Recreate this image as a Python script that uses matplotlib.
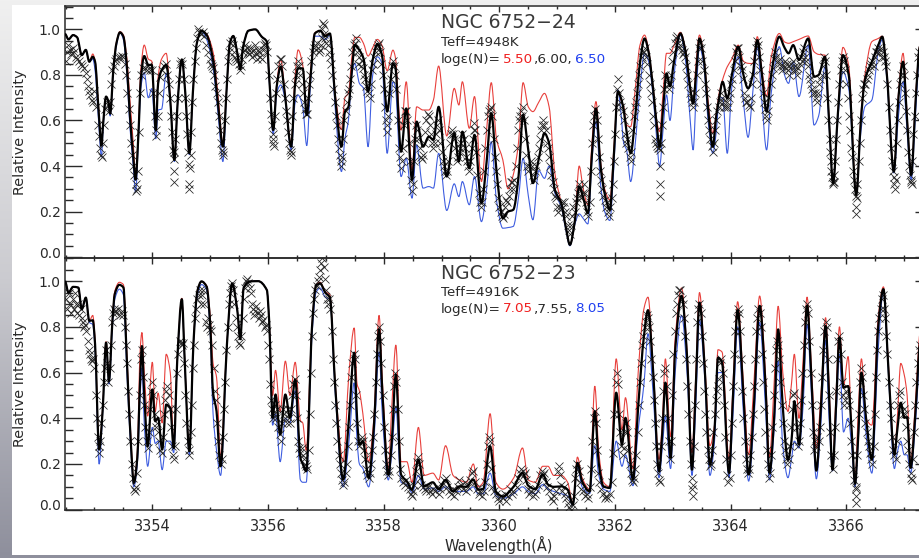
import matplotlib
matplotlib.use('Agg')
import matplotlib.pyplot as plt
import numpy as np
from matplotlib.patches import PathPatch, Rectangle
from matplotlib.path import Path
from matplotlib.ticker import MultipleLocator
from matplotlib.transforms import ScaledTranslation

# wavelengths are offsets from 3350 A
base = 3350

# top panel, NGC 6752-24
wave_top = [
 2.49,2.55,2.63,2.70,2.78,2.85,2.91,2.97,3.01,3.07,
 3.12,3.15,3.20,3.24,3.27,3.33,3.38,3.44,3.50,3.56,
 3.61,3.67,3.71,3.76,3.80,3.86,3.93,3.99,4.06,4.10,
 4.16,4.24,4.31,4.38,4.44,4.51,4.57,4.64,4.70,4.77,
 4.85,4.94,5.05,5.14,5.22,5.29,5.34,5.40,5.47,5.52,
 5.57,5.66,5.78,5.89,5.98,6.02,6.09,6.15,6.22,6.29,
 6.40,6.47,6.52,6.60,6.67,6.73,6.81,6.90,6.99,7.07,
 7.16,7.27,7.33,7.39,7.45,7.50,7.58,7.65,7.73,7.81,
 7.89,7.97,8.06,8.16,8.20,8.30,8.39,8.49,8.57,8.68,
 8.78,8.86,8.95,9.09,9.22,9.30,9.36,9.48,9.57,9.69,
 9.78,9.86,9.95,10.06,10.15,10.24,10.33,10.41,10.50,10.58,
 10.68,10.78,10.86,10.96,11.07,11.15,11.22,11.30,11.38,11.45,
 11.53,11.60,11.67,11.75,11.82,11.91,11.98,12.05,12.10,12.15,
 12.20,12.27,12.35,12.43,12.51,12.58,12.66,12.72,12.77,12.83,
 12.89,12.95,13.02,13.13,13.22,13.30,13.35,13.40,13.46,13.53,
 13.62,13.69,13.75,13.80,13.86,13.94,14.02,14.13,14.22,14.30,
 14.38,14.46,14.54,14.62,14.70,14.84,14.93,15.00,15.08,15.18,
 15.34,15.44,15.52,15.63,15.70,15.77,15.85,15.94,16.04,16.17,
 16.25,16.32,16.44,16.55,16.62,16.70,16.82,16.90,16.98,17.05,
 17.12,17.20,17.27,17.40,17.48]
black_top = [
 .98,.956,.975,.965,.887,.91,.858,.88,.858,.646,
 .49,.588,.705,.683,.63,.836,.94,.987,.968,.836,
 .63,.44,.34,.544,.778,.883,.844,.844,.558,.763,
 .82,.844,.69,.427,.69,.868,.72,.456,.72,.94,
 .994,.975,.866,.66,.485,.763,.94,.971,.895,.825,
 .924,.994,1.0,.968,.946,.792,.558,.749,.836,.72,
 .485,.763,.829,.829,.624,.778,.982,.994,.971,.982,
 .705,.485,.639,.66,.82,.931,.909,.873,.727,.866,
 .936,.887,.639,.851,.836,.463,.653,.339,.595,.485,
 .529,.515,.66,.354,.544,.42,.551,.39,.537,.237,
 .42,.632,.38,.171,.20,.208,.35,.624,.47,.325,
 .43,.544,.50,.295,.237,.13,.054,.15,.31,.26,
 .193,.45,.653,.40,.28,.208,.45,.727,.70,.646,
 .55,.456,.62,.85,.96,.90,.734,.58,.485,.65,
 .807,.75,.86,.982,.90,.74,.675,.80,.96,.88,
 .62,.485,.62,.697,.77,.697,.80,.924,.80,.741,
 .80,.953,.80,.639,.80,.968,.92,.895,.931,.866,
 .96,.792,.80,.88,.60,.325,.62,.887,.80,.273,
 .60,.778,.858,.93,.968,.80,.376,.70,.858,.60,
 .361,.70,.924,.95,.95]
red_top = [
 .98,.956,.975,.965,.887,.91,.858,.892,.86,.66,
 .49,.59,.705,.683,.63,.84,.945,.99,.975,.87,
 .70,.50,.36,.56,.82,.931,.87,.86,.57,.79,
 .87,.895,.70,.427,.69,.868,.72,.456,.72,.94,
 .994,.98,.90,.70,.50,.763,.94,.971,.895,.825,
 .924,.994,1.0,.968,.946,.792,.558,.76,.868,.73,
 .50,.80,.91,.844,.63,.80,.985,.994,.975,.982,
 .72,.56,.70,.72,.88,.965,.965,.939,.883,.92,
 .956,.93,.819,.909,.88,.558,.77,.383,.66,.646,
 .646,.69,.839,.532,.741,.668,.77,.566,.705,.332,
 .56,.766,.52,.427,.30,.361,.50,.766,.66,.639,
 .68,.719,.66,.368,.237,.13,.054,.15,.40,.30,
 .23,.50,.683,.42,.30,.251,.48,.73,.69,.66,
 .58,.573,.74,.93,.975,.91,.74,.60,.551,.72,
 .895,.895,.93,.987,.91,.75,.68,.85,.975,.89,
 .66,.544,.63,.72,.78,.836,.87,.931,.86,.851,
 .85,.968,.82,.705,.88,.982,.945,.939,.946,.956,
 .971,.902,.89,.887,.61,.325,.62,.921,.84,.273,
 .62,.80,.946,.96,.97,.81,.376,.72,.895,.62,
 .36,.72,.93,.96,.96]
blue_top = [
 .98,.956,.975,.965,.887,.91,.858,.87,.82,.60,
 .44,.57,.70,.68,.62,.83,.93,.985,.955,.80,
 .58,.40,.285,.52,.74,.81,.70,.74,.52,.646,
 .65,.807,.68,.42,.69,.868,.72,.45,.72,.94,
 .99,.955,.83,.62,.42,.763,.94,.971,.895,.825,
 .924,.994,1.0,.968,.946,.78,.54,.72,.756,.70,
 .47,.68,.712,.66,.49,.74,.97,.97,.955,.975,
 .66,.376,.52,.60,.80,.851,.763,.741,.485,.80,
 .88,.851,.456,.77,.75,.354,.434,.259,.493,.303,
 .31,.303,.456,.205,.322,.266,.332,.23,.354,.156,
 .30,.507,.25,.127,.13,.135,.26,.434,.27,.164,
 .38,.346,.40,.281,.22,.12,.05,.14,.19,.17,
 .146,.42,.595,.32,.20,.161,.40,.734,.64,.50,
 .47,.332,.50,.74,.895,.86,.70,.52,.398,.56,
 .712,.60,.80,.975,.86,.60,.471,.70,.924,.85,
 .57,.456,.55,.697,.70,.456,.75,.88,.68,.526,
 .72,.924,.68,.471,.72,.924,.80,.763,.858,.705,
 .931,.58,.62,.836,.58,.325,.60,.814,.74,.273,
 .55,.661,.69,.90,.955,.78,.37,.62,.77,.55,
 .34,.65,.90,.93,.93]

obs_wave_top = [
 2.50,2.52,2.54,2.57,2.60,2.62,2.65,2.68,2.70,2.73,
 2.76,2.79,2.82,2.85,2.87,2.89,2.91,2.93,2.95,2.97,
 3.00,3.03,3.06,3.08,3.10,3.12,3.13,3.15,3.17,3.19,
 3.21,3.23,3.25,3.27,3.29,3.31,3.33,3.35,3.38,3.41,
 3.44,3.47,3.50,3.53,3.55,3.57,3.59,3.61,3.63,3.65,
 3.67,3.69,3.71,3.72,3.73,3.75,3.77,3.79,3.81,3.84,
 3.87,3.90,3.93,3.96,3.99,4.02,4.04,4.06,4.07,4.09,
 4.11,4.14,4.17,4.20,4.23,4.26,4.28,4.30,4.32,4.34,
 4.36,4.37,4.38,4.38,4.38,4.40,4.42,4.44,4.46,4.48,
 4.50,4.52,4.54,4.56,4.58,4.60,4.62,4.63,4.64,4.64,
 4.65,4.66,4.67,4.69,4.71,4.73,4.75,4.77,4.79,4.81,
 4.84,4.87,4.90,4.93,4.96,4.99,5.01,5.03,5.05,5.07,
 5.09,5.11,5.13,5.15,5.17,5.19,5.21,5.22,5.23,5.25,
 5.27,5.29,5.31,5.33,5.35,5.37,5.39,5.41,5.43,5.45,
 5.47,5.49,5.51,5.53,5.55,5.57,5.59,5.61,5.63,5.65,
 5.67,5.69,5.71,5.73,5.75,5.77,5.79,5.81,5.83,5.85,
 5.87,5.89,5.91,5.93,5.95,5.97,5.99,6.01,6.03,6.05,
 6.07,6.08,6.09,6.09,6.10,6.12,6.14,6.16,6.18,6.20,
 6.22,6.24,6.27,6.29,6.31,6.33,6.35,6.37,6.38,6.39,
 6.40,6.42,6.44,6.46,6.48,6.50,6.52,6.54,6.56,6.58,
 6.60,6.62,6.64,6.66,6.67,6.69,6.71,6.73,6.75,6.77,
 6.79,6.82,6.84,6.86,6.88,6.90,6.91,6.93,6.94,6.95,
 6.96,6.97,6.99,7.01,7.03,7.05,7.07,7.09,7.11,7.13,
 7.15,7.17,7.19,7.21,7.23,7.25,7.26,7.27,7.28,7.30,
 7.32,7.34,7.36,7.38,7.40,7.42,7.44,7.46,7.48,7.50,
 7.52,7.54,7.56,7.58,7.60,7.62,7.64,7.66,7.68,7.70,
 7.72,7.74,7.76,7.78,7.80,7.82,7.84,7.86,7.88,7.90,
 7.92,7.94,7.96,7.98,8.00,8.02,8.04,8.05,8.06,8.07,
 8.10,8.12,8.14,8.16,8.18,8.20,8.22,8.24,8.26,8.28,
 8.30,8.31,8.33,8.35,8.37,8.39,8.41,8.43,8.45,8.47,
 8.49,8.50,8.52,8.54,8.56,8.58,8.60,8.62,8.64,8.66,
 8.68,8.70,8.72,8.74,8.76,8.78,8.80,8.82,8.84,8.86,
 8.88,8.90,8.92,8.94,8.96,8.98,9.00,9.02,9.04,9.06,
 9.08,9.10,9.12,9.14,9.16,9.18,9.20,9.22,9.24,9.26,
 9.28,9.30,9.32,9.34,9.36,9.38,9.40,9.42,9.44,9.46,
 9.48,9.50,9.52,9.54,9.56,9.57,9.58,9.60,9.62,9.64,
 9.66,9.68,9.70,9.72,9.74,9.76,9.78,9.80,9.82,9.84,
 9.86,9.88,9.90,9.92,9.94,9.96,9.98,10.00,10.02,10.04,
 10.06,10.08,10.10,10.12,10.14,10.16,10.18,10.20,10.22,10.24,
 10.26,10.28,10.30,10.32,10.34,10.36,10.38,10.39,10.40,10.42,
 10.44,10.46,10.48,10.50,10.52,10.54,10.56,10.58,10.60,10.62,
 10.64,10.66,10.68,10.70,10.72,10.74,10.76,10.78,10.80,10.82,
 10.84,10.86,10.88,10.90,10.92,10.94,10.96,10.98,11.00,11.02,
 11.04,11.06,11.08,11.10,11.12,11.14,11.16,11.18,11.20,11.22,
 11.24,11.26,11.28,11.30,11.32,11.34,11.36,11.38,11.40,11.42,
 11.44,11.46,11.48,11.50,11.52,11.54,11.56,11.58,11.60,11.62,
 11.64,11.66,11.68,11.70,11.72,11.74,11.76,11.78,11.80,11.82,
 11.84,11.86,11.88,11.90,11.92,11.94,11.96,11.98,12.00,12.02,
 12.04,12.05,12.07,12.09,12.11,12.13,12.15,12.17,12.19,12.21,
 12.23,12.25,12.27,12.28,12.30,12.32,12.34,12.36,12.38,12.40,
 12.42,12.44,12.46,12.48,12.50,12.52,12.54,12.56,12.58,12.60,
 12.62,12.64,12.66,12.67,12.69,12.71,12.73,12.74,12.76,12.77,
 12.77,12.77,12.77,12.79,12.81,12.83,12.85,12.87,12.89,12.91,
 12.93,12.95,12.97,12.99,13.01,13.03,13.05,13.07,13.09,13.11,
 13.13,13.15,13.17,13.19,13.21,13.23,13.25,13.27,13.29,13.31,
 13.33,13.35,13.37,13.39,13.41,13.43,13.45,13.47,13.49,13.51,
 13.53,13.55,13.57,13.59,13.61,13.63,13.65,13.67,13.69,13.71,
 13.73,13.75,13.77,13.79,13.81,13.83,13.85,13.87,13.89,13.91,
 13.93,13.95,13.97,13.99,14.01,14.03,14.05,14.07,14.09,14.11,
 14.13,14.15,14.17,14.19,14.21,14.23,14.25,14.27,14.29,14.31,
 14.33,14.35,14.37,14.39,14.41,14.43,14.45,14.47,14.49,14.51,
 14.53,14.55,14.57,14.59,14.61,14.63,14.65,14.67,14.69,14.71,
 14.73,14.75,14.77,14.79,14.81,14.83,14.85,14.87,14.89,14.91,
 14.93,14.95,14.97,14.99,15.01,15.03,15.05,15.07,15.09,15.11,
 15.13,15.15,15.17,15.19,15.21,15.23,15.25,15.27,15.29,15.31,
 15.33,15.35,15.37,15.39,15.41,15.43,15.45,15.47,15.49,15.51,
 15.53,15.55,15.57,15.59,15.61,15.63,15.65,15.67,15.69,15.71,
 15.72,15.73,15.74,15.75,15.76,15.77,15.78,15.79,15.80,15.82,
 15.84,15.86,15.88,15.90,15.92,15.94,15.96,15.98,16.00,16.02,
 16.04,16.06,16.08,16.10,16.12,16.14,16.15,16.16,16.17,16.17,
 16.18,16.19,16.21,16.23,16.25,16.27,16.29,16.31,16.33,16.35,
 16.37,16.39,16.41,16.43,16.45,16.47,16.49,16.51,16.53,16.55,
 16.57,16.59,16.61,16.63,16.65,16.67,16.69,16.71,16.73,16.75,
 16.77,16.79,16.81,16.82,16.83,16.84,16.85,16.87,16.89,16.91,
 16.93,16.95,16.97,16.99,17.01,17.03,17.05,17.07,17.09,17.10,
 17.11,17.12,17.13,17.14,17.16,17.18,17.20,17.22,17.24,17.26]
obs_flux_top = [
 .86,.90,.93,.91,.89,.92,.90,.88,.87,.86,
 .85,.84,.83,.81,.78,.75,.73,.71,.69,.68,
 .73,.66,.58,.53,.48,.45,.44,.50,.58,.65,
 .68,.67,.64,.68,.76,.82,.84,.86,.87,.88,
 .88,.885,.88,.85,.80,.72,.65,.58,.50,.45,
 .40,.36,.32,.29,.30,.38,.55,.72,.80,.83,
 .83,.82,.84,.82,.82,.72,.62,.56,.53,.62,
 .72,.79,.82,.84,.85,.80,.76,.70,.62,.55,
 .47,.43,.38,.33,.46,.52,.62,.70,.78,.85,
 .86,.85,.78,.70,.62,.54,.46,.41,.32,.30,
 .39,.45,.55,.68,.78,.86,.92,.96,1.0,.99,
 .98,.99,.97,.93,.90,.87,.85,.84,.83,.80,
 .75,.72,.68,.62,.56,.50,.47,.45,.46,.60,
 .70,.78,.86,.90,.94,.95,.93,.90,.88,.87,
 .86,.85,.82,.84,.87,.90,.91,.93,.92,.90,
 .89,.92,.90,.88,.91,.93,.89,.87,.91,.90,
 .88,.87,.91,.93,.94,.93,.90,.80,.70,.63,
 .58,.54,.52,.50,.49,.62,.72,.78,.84,.87,
 .87,.84,.76,.70,.64,.60,.55,.50,.47,.45,
 .46,.62,.70,.76,.80,.84,.86,.84,.80,.76,
 .72,.68,.65,.63,.63,.70,.76,.80,.86,.90,
 .92,.93,.94,.92,.90,.91,.93,.96,1.0,1.03,
 1.02,.98,.96,.94,.93,.90,.88,.85,.80,.74,
 .68,.62,.58,.52,.48,.45,.42,.40,.44,.52,
 .60,.64,.68,.72,.74,.78,.84,.90,.93,.94,
 .96,.90,.85,.88,.84,.86,.83,.80,.78,.75,
 .73,.72,.70,.76,.82,.85,.88,.90,.92,.93,
 .94,.90,.85,.80,.74,.66,.60,.58,.55,.62,
 .72,.78,.84,.86,.84,.80,.74,.60,.48,.44,
 .39,.42,.48,.58,.64,.64,.60,.50,.42,.34,
 .29,.32,.42,.52,.58,.56,.52,.48,.44,.43,
 .45,.50,.55,.60,.63,.62,.58,.54,.50,.48,
 .50,.54,.58,.60,.56,.50,.46,.42,.40,.38,
 .36,.38,.42,.50,.54,.56,.54,.52,.48,.42,
 .44,.46,.48,.50,.54,.52,.48,.44,.42,.40,
 .38,.42,.48,.52,.56,.59,.56,.46,.36,.28,
 .24,.22,.24,.30,.38,.48,.56,.62,.64,.65,
 .66,.62,.52,.44,.38,.32,.26,.22,.20,.18,
 .17,.19,.22,.25,.24,.27,.30,.33,.33,.30,
 .34,.40,.48,.56,.60,.62,.64,.62,.66,.60,
 .52,.45,.40,.38,.40,.42,.40,.36,.34,.38,
 .40,.44,.48,.52,.56,.58,.60,.58,.56,.50,
 .48,.44,.40,.36,.33,.30,.27,.26,.22,.20,
 .22,.21,.24,.22,.24,.20,.18,.14,.12,.10,
 .14,.18,.22,.20,.24,.26,.28,.32,.30,.26,
 .28,.32,.28,.24,.20,.18,.24,.38,.50,.58,
 .62,.65,.60,.52,.44,.38,.34,.30,.27,.25,
 .22,.24,.20,.18,.22,.26,.32,.42,.54,.66,
 .74,.78,.72,.68,.66,.64,.60,.54,.50,.52,
 .48,.44,.42,.46,.56,.62,.66,.68,.72,.76,
 .80,.84,.88,.90,.90,.92,.88,.85,.80,.76,
 .72,.68,.62,.58,.52,.50,.49,.48,.48,.47,
 .40,.32,.27,.50,.58,.66,.74,.80,.78,.76,
 .74,.76,.80,.86,.90,.94,.96,.97,.94,.92,
 .93,.91,.89,.90,.88,.84,.80,.76,.72,.70,
 .68,.66,.68,.72,.80,.86,.92,.94,.92,.86,
 .82,.76,.72,.66,.60,.56,.52,.49,.46,.50,
 .56,.60,.64,.66,.68,.72,.70,.68,.66,.66,
 .68,.66,.70,.72,.76,.78,.82,.86,.90,.92,
 .92,.88,.84,.82,.78,.72,.70,.68,.68,.67,
 .66,.70,.76,.80,.86,.92,.95,.93,.88,.82,
 .76,.72,.68,.65,.62,.60,.64,.70,.76,.80,
 .83,.87,.90,.88,.86,.85,.87,.84,.82,.84,
 .86,.83,.85,.82,.80,.83,.85,.86,.82,.84,
 .82,.80,.83,.85,.88,.86,.90,.92,.88,.86,
 .84,.80,.78,.76,.74,.72,.72,.70,.68,.72,
 .76,.78,.80,.84,.88,.86,.80,.70,.60,.52,
 .46,.42,.38,.35,.33,.32,.33,.36,.42,.52,
 .60,.68,.76,.82,.86,.88,.86,.82,.76,.70,
 .62,.56,.48,.44,.38,.34,.30,.27,.22,.19,
 .26,.32,.42,.50,.60,.70,.74,.76,.76,.78,
 .80,.82,.84,.85,.86,.84,.88,.90,.90,.92,
 .90,.92,.88,.90,.88,.86,.84,.76,.66,.56,
 .48,.42,.38,.35,.32,.30,.34,.50,.60,.68,
 .76,.80,.84,.80,.72,.64,.56,.46,.40,.36,
 .33,.34,.32,.42,.54,.62,.72,.80,.88,.90]

# bottom panel, NGC 6752-23
wave_bot = [
 2.49,2.55,2.63,2.72,2.78,2.85,2.91,2.97,3.01,3.08,
 3.14,3.20,3.25,3.31,3.35,3.43,3.50,3.56,3.63,3.68,
 3.74,3.79,3.82,3.86,3.92,4.00,4.05,4.10,4.17,4.24,
 4.31,4.37,4.43,4.51,4.56,4.64,4.71,4.78,4.85,4.94,
 5.00,5.05,5.11,5.18,5.29,5.38,5.47,5.52,5.58,5.69,
 5.83,5.98,6.02,6.08,6.13,6.21,6.30,6.38,6.47,6.56,
 6.60,6.66,6.76,6.83,6.90,6.99,7.07,7.16,7.30,7.40,
 7.49,7.54,7.58,7.64,7.74,7.83,7.92,7.98,8.08,8.14,
 8.21,8.30,8.40,8.49,8.60,8.70,8.85,8.95,9.07,9.20,
 9.31,9.43,9.55,9.63,9.72,9.84,9.94,10.06,10.25,10.40,
 10.50,10.62,10.75,10.84,10.94,11.07,11.18,11.27,11.35,11.43,
 11.56,11.65,11.72,11.80,11.91,12.02,12.12,12.18,12.31,12.40,
 12.50,12.57,12.66,12.76,12.82,12.87,12.96,13.04,13.15,13.25,
 13.33,13.39,13.46,13.55,13.64,13.72,13.78,13.85,13.97,14.04,
 14.12,14.22,14.31,14.40,14.50,14.60,14.67,14.75,14.82,14.90,
 14.99,15.05,15.10,15.18,15.25,15.32,15.40,15.48,15.56,15.64,
 15.70,15.76,15.82,15.88,15.95,16.03,16.09,16.15,16.20,16.26,
 16.34,16.44,16.55,16.64,16.73,16.83,16.88,16.94,17.00,17.05,
 17.11,17.20,17.27,17.40,17.48]
black_bot = [
 1.0,.95,.975,.972,.877,.928,.826,.829,.724,.263,
 .431,.731,.563,.826,.943,.984,.972,.651,.285,.117,
 .227,.577,.716,.504,.278,.526,.387,.402,.263,.46,
 .446,.27,.651,.921,.651,.256,.724,.958,.999,.975,
 .811,.512,.431,.19,.724,.99,.87,.746,.972,.999,
 1.0,.961,.826,.402,.504,.329,.504,.402,.57,.227,
 .20,.168,.797,.98,.99,.95,.928,.548,.132,.40,
 .687,.40,.285,.30,.139,.36,.789,.50,.154,.30,
 .592,.154,.124,.088,.219,.102,.12,.09,.13,.08,
 .102,.10,.132,.088,.09,.278,.08,.058,.102,.161,
 .105,.09,.154,.11,.10,.102,.088,.022,.205,.124,
 .08,.431,.20,.102,.095,.512,.285,.402,.132,.45,
 .76,.873,.60,.168,.35,.556,.227,.70,.936,.65,
 .175,.50,.906,.62,.197,.35,.665,.643,.161,.50,
 .873,.50,.154,.45,.892,.55,.161,.40,.789,.45,
 .219,.30,.475,.285,.55,.892,.55,.171,.45,.804,
 .50,.175,.45,.753,.534,.541,.35,.113,.30,.60,
 .40,.219,.80,.965,.60,.241,.35,.468,.402,.405,
 .183,.45,.724,.80,.80]
red_bot = [
 1.0,.95,.975,.972,.877,.928,.826,.85,.74,.27,
 .44,.735,.57,.835,.955,.995,.985,.68,.31,.12,
 .25,.70,.775,.60,.41,.645,.43,.51,.38,.68,
 .60,.28,.655,.925,.655,.26,.73,.96,.999,.98,
 .85,.64,.58,.23,.73,.99,.87,.746,.972,.999,
 1.0,.961,.83,.50,.61,.43,.65,.50,.645,.39,
 .38,.26,.81,.985,.995,.955,.94,.56,.21,.60,
 .795,.55,.52,.42,.21,.40,.85,.55,.18,.45,
 .72,.21,.21,.12,.36,.15,.16,.13,.28,.15,
 .13,.12,.20,.10,.12,.42,.12,.09,.14,.27,
 .13,.12,.19,.19,.15,.15,.12,.03,.23,.14,
 .09,.54,.25,.12,.10,.66,.35,.49,.18,.60,
 .88,.93,.62,.22,.40,.66,.32,.75,.97,.67,
 .25,.55,.95,.65,.28,.37,.70,.69,.22,.55,
 .91,.55,.24,.55,.935,.60,.23,.55,.89,.60,
 .43,.55,.68,.40,.65,.93,.60,.27,.50,.84,
 .55,.19,.50,.80,.54,.67,.35,.12,.40,.66,
 .40,.37,.84,.975,.62,.25,.40,.64,.59,.50,
 .21,.50,.77,.85,.85]
blue_bot = [
 1.0,.95,.975,.972,.877,.928,.82,.81,.70,.20,
 .42,.72,.55,.80,.92,.965,.94,.60,.26,.10,
 .20,.50,.62,.38,.19,.36,.29,.30,.175,.30,
 .30,.25,.64,.915,.645,.24,.72,.94,.985,.96,
 .78,.42,.26,.15,.72,.99,.87,.746,.972,.999,
 1.0,.961,.82,.37,.42,.21,.40,.38,.52,.13,
 .12,.12,.76,.95,.97,.93,.92,.52,.10,.30,
 .555,.30,.20,.18,.10,.30,.69,.40,.13,.25,
 .45,.12,.11,.075,.15,.09,.095,.08,.10,.08,
 .08,.08,.10,.07,.07,.16,.06,.05,.07,.10,
 .08,.07,.11,.09,.08,.07,.06,.02,.19,.10,
 .07,.28,.15,.09,.08,.30,.19,.24,.105,.35,
 .55,.77,.50,.14,.28,.41,.18,.60,.85,.58,
 .15,.42,.83,.58,.15,.30,.60,.60,.14,.42,
 .80,.42,.125,.38,.82,.45,.13,.35,.65,.28,
 .14,.22,.30,.27,.45,.81,.48,.135,.38,.74,
 .40,.17,.40,.68,.34,.40,.28,.10,.28,.53,
 .33,.16,.70,.955,.58,.18,.25,.30,.24,.24,
 .16,.40,.66,.74,.74]

obs_wave_bot = [
 2.50,2.53,2.56,2.58,2.60,2.62,2.64,2.66,2.68,2.70,
 2.72,2.74,2.76,2.78,2.80,2.82,2.84,2.86,2.88,2.90,
 2.92,2.94,2.96,2.98,3.00,3.02,3.04,3.06,3.07,3.08,
 3.10,3.12,3.14,3.16,3.18,3.20,3.22,3.24,3.26,3.28,
 3.30,3.32,3.34,3.36,3.38,3.41,3.44,3.47,3.50,3.52,
 3.54,3.56,3.58,3.60,3.62,3.64,3.66,3.68,3.70,3.72,
 3.74,3.76,3.78,3.80,3.82,3.84,3.86,3.88,3.90,3.92,
 3.94,3.96,3.98,4.00,4.02,4.04,4.06,4.08,4.10,4.12,
 4.14,4.16,4.18,4.20,4.22,4.24,4.26,4.28,4.30,4.32,
 4.34,4.36,4.38,4.39,4.41,4.43,4.45,4.47,4.49,4.51,
 4.53,4.55,4.57,4.59,4.61,4.63,4.64,4.66,4.68,4.70,
 4.72,4.74,4.76,4.78,4.80,4.82,4.84,4.86,4.88,4.90,
 4.92,4.94,4.96,4.98,5.00,5.02,5.04,5.06,5.08,5.10,
 5.12,5.14,5.16,5.18,5.20,5.22,5.24,5.26,5.28,5.30,
 5.32,5.34,5.36,5.38,5.40,5.42,5.44,5.46,5.48,5.50,
 5.52,5.54,5.56,5.58,5.60,5.62,5.64,5.66,5.68,5.70,
 5.72,5.74,5.76,5.78,5.80,5.82,5.84,5.86,5.88,5.90,
 5.92,5.94,5.96,5.98,6.00,6.02,6.04,6.06,6.07,6.08,
 6.10,6.12,6.14,6.16,6.18,6.20,6.22,6.24,6.26,6.28,
 6.30,6.32,6.34,6.36,6.38,6.40,6.42,6.44,6.46,6.48,
 6.50,6.52,6.54,6.56,6.58,6.60,6.62,6.64,6.66,6.68,
 6.70,6.72,6.74,6.76,6.78,6.80,6.82,6.84,6.86,6.88,
 6.90,6.92,6.94,6.96,6.98,7.00,7.02,7.04,7.06,7.08,
 7.10,7.12,7.14,7.16,7.18,7.20,7.22,7.24,7.26,7.28,
 7.30,7.32,7.34,7.36,7.38,7.40,7.42,7.44,7.46,7.48,
 7.50,7.52,7.54,7.56,7.58,7.60,7.62,7.64,7.66,7.68,
 7.70,7.72,7.74,7.76,7.78,7.80,7.82,7.84,7.86,7.88,
 7.90,7.92,7.94,7.96,7.98,8.00,8.02,8.04,8.06,8.08,
 8.10,8.12,8.14,8.16,8.18,8.20,8.22,8.24,8.26,8.28,
 8.30,8.33,8.36,8.39,8.42,8.45,8.47,8.49,8.51,8.53,
 8.55,8.57,8.59,8.61,8.63,8.65,8.68,8.71,8.74,8.77,
 8.80,8.83,8.86,8.89,8.92,8.95,8.98,9.01,9.04,9.07,
 9.10,9.13,9.16,9.19,9.22,9.25,9.28,9.31,9.34,9.37,
 9.40,9.43,9.46,9.49,9.52,9.55,9.58,9.61,9.64,9.67,
 9.70,9.73,9.76,9.78,9.80,9.82,9.84,9.86,9.88,9.91,
 9.94,9.97,10.00,10.03,10.06,10.09,10.12,10.15,10.18,10.21,
 10.24,10.27,10.30,10.33,10.36,10.38,10.40,10.42,10.44,10.46,
 10.49,10.52,10.55,10.58,10.61,10.64,10.67,10.70,10.73,10.75,
 10.77,10.80,10.83,10.86,10.89,10.92,10.95,10.98,11.01,11.03,
 11.05,11.07,11.09,11.11,11.13,11.15,11.18,11.21,11.24,11.27,
 11.29,11.31,11.33,11.35,11.37,11.39,11.42,11.45,11.48,11.51,
 11.54,11.57,11.59,11.61,11.63,11.65,11.67,11.69,11.71,11.73,
 11.76,11.79,11.82,11.85,11.88,11.91,11.94,11.97,11.99,12.01,
 12.03,12.05,12.07,12.09,12.11,12.13,12.15,12.17,12.19,12.21,
 12.23,12.25,12.27,12.29,12.31,12.33,12.35,12.37,12.39,12.41,
 12.43,12.45,12.47,12.49,12.51,12.53,12.55,12.57,12.59,12.61,
 12.63,12.65,12.67,12.69,12.71,12.73,12.75,12.76,12.77,12.79,
 12.81,12.83,12.85,12.87,12.89,12.91,12.93,12.95,12.97,12.99,
 13.01,13.03,13.05,13.07,13.09,13.11,13.13,13.15,13.17,13.19,
 13.21,13.23,13.25,13.27,13.29,13.31,13.33,13.33,13.34,13.34,
 13.36,13.38,13.40,13.42,13.44,13.46,13.48,13.50,13.52,13.54,
 13.56,13.58,13.60,13.62,13.64,13.66,13.68,13.70,13.72,13.74,
 13.76,13.78,13.80,13.82,13.84,13.86,13.88,13.90,13.92,13.94,
 13.96,13.98,14.00,14.02,14.04,14.06,14.08,14.10,14.12,14.14,
 14.16,14.18,14.20,14.22,14.24,14.26,14.28,14.30,14.32,14.34,
 14.36,14.38,14.40,14.42,14.44,14.46,14.48,14.50,14.52,14.54,
 14.56,14.58,14.60,14.62,14.64,14.66,14.68,14.70,14.72,14.74,
 14.76,14.78,14.80,14.82,14.84,14.86,14.88,14.90,14.92,14.94,
 14.96,14.98,15.00,15.02,15.04,15.06,15.08,15.10,15.12,15.14,
 15.16,15.18,15.20,15.22,15.24,15.26,15.28,15.30,15.32,15.34,
 15.36,15.38,15.40,15.42,15.44,15.46,15.48,15.50,15.52,15.54,
 15.56,15.58,15.60,15.62,15.64,15.66,15.68,15.70,15.72,15.74,
 15.76,15.78,15.80,15.82,15.84,15.86,15.88,15.90,15.92,15.94,
 15.96,15.98,16.00,16.02,16.04,16.06,16.08,16.10,16.12,16.14,
 16.16,16.17,16.17,16.17,16.19,16.21,16.23,16.25,16.27,16.29,
 16.31,16.33,16.35,16.37,16.39,16.41,16.43,16.45,16.47,16.49,
 16.51,16.53,16.55,16.57,16.59,16.61,16.63,16.65,16.67,16.69,
 16.71,16.73,16.75,16.77,16.79,16.81,16.83,16.85,16.87,16.89,
 16.91,16.93,16.95,16.97,16.99,17.01,17.03,17.05,17.07,17.09,
 17.11,17.12,17.13,17.15,17.17,17.19,17.21,17.23,17.25,17.27]
obs_flux_bot = [
 .92,.88,.95,.90,.86,.92,.88,.95,.90,.86,
 .90,.85,.88,.84,.82,.80,.81,.78,.74,.70,
 .68,.66,.65,.66,.62,.50,.40,.32,.28,.25,
 .30,.38,.46,.56,.62,.70,.64,.56,.62,.72,
 .82,.86,.88,.87,.86,.88,.85,.87,.85,.80,
 .72,.64,.52,.42,.30,.20,.14,.09,.08,.10,
 .16,.30,.50,.66,.70,.58,.46,.36,.30,.27,
 .34,.44,.52,.56,.50,.42,.36,.38,.34,.30,
 .26,.25,.32,.42,.48,.52,.54,.50,.44,.36,
 .28,.24,.22,.28,.44,.60,.68,.74,.73,.72,
 .73,.64,.50,.38,.30,.26,.24,.34,.46,.62,
 .72,.84,.88,.92,.94,.96,.90,.94,.96,.90,
 .82,.80,.84,.81,.79,.78,.72,.62,.52,.48,
 .38,.30,.24,.20,.22,.32,.44,.56,.70,.80,
 .90,.95,.98,.99,.96,.90,.84,.80,.76,.73,
 .72,.76,.84,.92,.97,1.0,1.01,.99,.97,.95,
 .90,.88,.85,.87,.89,.86,.84,.87,.85,.82,
 .83,.80,.81,.78,.72,.66,.55,.48,.44,.40,
 .42,.46,.40,.44,.36,.33,.30,.38,.44,.42,
 .40,.38,.44,.40,.38,.44,.50,.55,.57,.50,
 .40,.30,.27,.25,.27,.24,.22,.20,.19,.18,
 .26,.42,.60,.76,.86,.92,.96,.98,1.0,1.02,
 1.05,1.08,1.10,1.06,1.01,.96,.92,.90,.92,.88,
 .78,.66,.56,.46,.38,.30,.24,.20,.16,.13,
 .11,.12,.16,.20,.28,.36,.46,.58,.64,.68,
 .66,.50,.38,.30,.28,.30,.32,.30,.26,.22,
 .18,.15,.14,.16,.20,.26,.32,.42,.56,.68,
 .76,.80,.74,.64,.50,.36,.26,.20,.17,.15,
 .17,.24,.32,.44,.54,.60,.56,.44,.30,.18,
 .14,.12,.11,.13,.10,.09,.07,.06,.08,.11,
 .17,.21,.23,.20,.14,.11,.10,.09,.08,.10,
 .08,.07,.09,.08,.10,.07,.09,.11,.13,.14,
 .10,.08,.07,.09,.06,.08,.10,.13,.11,.09,
 .12,.08,.10,.13,.16,.17,.12,.09,.07,.08,
 .06,.08,.12,.20,.28,.32,.30,.18,.10,.08,
 .07,.05,.04,.06,.05,.07,.04,.06,.09,.07,
 .08,.11,.10,.14,.16,.18,.17,.15,.16,.13,
 .09,.07,.08,.06,.07,.09,.11,.15,.17,.15,
 .16,.12,.10,.08,.05,.04,.06,.08,.17,.19,
 .15,.11,.08,.10,.07,.05,.03,.01,0.0,.02,
 .06,.14,.18,.20,.17,.12,.09,.08,.06,.07,
 .05,.10,.18,.30,.40,.43,.38,.26,.16,.12,
 .09,.07,.05,.06,.05,.07,.12,.25,.42,.56,
 .60,.55,.42,.34,.28,.24,.27,.34,.38,.34,
 .26,.20,.16,.13,.12,.14,.18,.24,.34,.46,
 .56,.64,.72,.76,.80,.82,.85,.84,.80,.74,
 .66,.58,.48,.38,.28,.20,.16,.13,.12,.28,
 .40,.52,.60,.62,.54,.40,.30,.22,.30,.50,
 .68,.78,.86,.90,.94,.96,.96,.92,.90,.84,
 .76,.66,.54,.42,.30,.20,.14,.09,.06,.11,
 .28,.46,.66,.82,.88,.90,.86,.76,.64,.52,
 .42,.34,.26,.22,.19,.20,.26,.34,.42,.48,
 .52,.54,.57,.64,.66,.60,.46,.32,.22,.15,
 .12,.14,.24,.38,.54,.68,.78,.84,.88,.86,
 .78,.66,.52,.40,.30,.22,.18,.16,.18,.24,
 .32,.42,.54,.66,.78,.84,.88,.86,.80,.68,
 .56,.44,.34,.26,.20,.14,.16,.24,.36,.50,
 .62,.70,.74,.72,.66,.56,.46,.38,.30,.26,
 .22,.20,.22,.28,.36,.44,.50,.51,.46,.36,
 .28,.30,.38,.48,.60,.72,.82,.88,.90,.86,
 .74,.60,.46,.34,.26,.30,.28,.32,.30,.36,
 .46,.58,.70,.78,.82,.80,.66,.50,.34,.24,
 .18,.24,.36,.52,.66,.74,.76,.68,.56,.50,
 .46,.48,.52,.50,.46,.38,.30,.24,.18,.13,
 .09,.06,.03,.10,.24,.42,.56,.62,.58,.50,
 .44,.38,.34,.30,.28,.25,.22,.20,.28,.42,
 .58,.70,.78,.84,.88,.92,.94,.88,.84,.76,
 .68,.56,.46,.40,.32,.26,.24,.22,.30,.46,
 .50,.52,.46,.42,.44,.42,.36,.30,.26,.20,
 .16,.14,.13,.22,.34,.46,.56,.64,.70,.72]

star_names = ['NGC 6752\u221224', 'NGC 6752\u221223']
teff_labels = ['Teff=4948K', 'Teff=4916K']
abund_low = ['5.50', '7.05']
abund_mid = [',6.00,', ',7.55,']
abund_high = ['6.50', '8.05']

W, H = 920, 558
RED = '#e8403c'
BLUE = '#3f5ee0'
INK = '#2a2a2a'


def px_box(x0, y0, x1, y1):
    # pixel box, y measured from the top of the image
    return [x0 / W, 1 - y1 / H, (x1 - x0) / W, (y1 - y0) / H]


def fx(x):
    return x / W


def fy(y):
    return 1 - y / H


def spectrum_curve(ax, x, y, color, lw, zorder):
    # the read-off points joined by rounded segments, flat at each peak and dip
    x = np.asarray(x, float)
    y = np.asarray(y, float)
    h = np.diff(x)
    s = np.diff(y) / h
    m = np.zeros_like(y)
    same = s[:-1] * s[1:] > 0
    m[1:-1][same] = 2 * s[:-1][same] * s[1:][same] / (s[:-1][same] + s[1:][same])
    verts = [(x[0], y[0])]
    codes = [Path.MOVETO]
    for i in range(len(h)):
        verts += [(x[i] + h[i] / 3, y[i] + m[i] * h[i] / 3),
                  (x[i + 1] - h[i] / 3, y[i + 1] - m[i + 1] * h[i] / 3),
                  (x[i + 1], y[i + 1])]
        codes += [Path.CURVE4] * 3
    ax.add_patch(PathPatch(Path(verts, codes), fill=False, edgecolor=color, lw=lw,
                           zorder=zorder, joinstyle='round'))


fig = plt.figure(figsize=(W / 100, H / 100), dpi=100)

# grey slide behind the plot
bg = fig.add_axes([0, 0, 1, 1], zorder=0)
shade = np.linspace(0, 1, 256).reshape(-1, 1)
bg.imshow(shade, aspect='auto', cmap=matplotlib.colors.LinearSegmentedColormap.from_list(
    'slide', ['#f0f0f0', '#cbcbd0', '#8e8f9c']), extent=[0, 1, 0, 1], origin='upper')
bg.add_patch(Rectangle((12 / W, 1 - 555 / H), 1, (555 - 4.7) / H, color='white', lw=0))
bg.set_xlim(0, 1)
bg.set_ylim(0, 1)
bg.axis('off')

ax_top = fig.add_axes(px_box(65, 5.7, 932, 258.3), zorder=1)
ax_bot = fig.add_axes(px_box(65, 258.3, 932, 509.7), zorder=1)
panels = [
    (ax_top, wave_top, black_top, red_top, blue_top, obs_wave_top, obs_flux_top, (-0.005, 1.104)),
    (ax_bot, wave_bot, black_bot, red_bot, blue_bot, obs_wave_bot, obs_flux_bot, (0, 1.1)),
]

for i, (ax, wave, black, red, blue, ow, of, ylim) in enumerate(panels):
    ax.patch.set_alpha(0)
    w = base + np.array(wave)
    spectrum_curve(ax, w, red, RED, 0.8, 2)
    spectrum_curve(ax, w, blue, BLUE, 0.8, 2)
    ax.plot(base + np.array(ow), of, ls='none', marker='x', ms=5.6, mew=0.55,
            color='#222222', zorder=3)
    spectrum_curve(ax, w, black, 'black', 1.6, 4)

    ax.set_xlim(3352.49, 3367.48)
    ax.set_ylim(*ylim)
    ax.xaxis.set_major_locator(MultipleLocator(2))
    ax.xaxis.set_minor_locator(MultipleLocator(0.5))
    ax.yaxis.set_major_locator(MultipleLocator(0.2))
    ax.yaxis.set_minor_locator(MultipleLocator(0.05))
    ax.tick_params(axis='x', which='major', direction='in', top=True, length=4,
                   width=1, color=INK, labelsize=10.5, labelcolor=INK, pad=7)
    ax.tick_params(axis='x', which='minor', direction='in', top=True, length=2, width=1, color=INK)
    ax.tick_params(axis='y', which='major', direction='in', right=True, length=12.5,
                   width=1, color=INK, labelsize=10, labelcolor=INK, pad=3)
    ax.tick_params(axis='y', which='minor', direction='in', right=True, length=6, width=1, color=INK)
    for sp in ax.spines.values():
        sp.set_linewidth(1.1)
        sp.set_color(INK)
    ax.set_ylabel('Relative Intensity', fontsize=10.4, color=INK)
    ax.yaxis.set_label_coords(-38 / 867, 0.5)

    # 0.0 label sits a little above its tick in the original
    fig.canvas.draw()
    for t in ax.yaxis.get_major_ticks():
        if abs(t.get_loc()) < 1e-6:
            t.label1.set_transform(t.label1.get_transform() +
                                   ScaledTranslation(0, 3.5 / 72, fig.dpi_scale_trans))

    dy = 0 if i == 0 else 250.5
    fig.text(fx(441), fy(23 + dy), star_names[i], fontsize=13.5, color='#3a3a3a', va='center')
    fig.text(fx(441), fy(43 + dy - (i * 0.5)), teff_labels[i], fontsize=9.6, color=INK, va='center')
    fig.text(fx(441), fy(59 + dy - (i * 0.5)), 'log\u03b5(N)=', fontsize=9.7, color=INK, va='center')
    fig.text(fx(503), fy(59 + dy - (i * 0.5)), abund_low[i], fontsize=9.7, color='#f02020', va='center')
    fig.text(fx(534), fy(59 + dy - (i * 0.5)), abund_mid[i], fontsize=9.7, color=INK, va='center')
    fig.text(fx(575), fy(59 + dy - (i * 0.5)), abund_high[i], fontsize=9.7, color='#2040f0', va='center')

ax_top.tick_params(axis='x', labelbottom=False)
ax_bot.set_xlabel('Wavelength(\u00c5)', fontsize=10.5, color=INK)
ax_bot.xaxis.set_label_coords((499 - 65) / 867, -(545 - 509.7) / 251.4)
ax_bot.xaxis.label.set_va('center')

fig.savefig('out.png', dpi=100)
